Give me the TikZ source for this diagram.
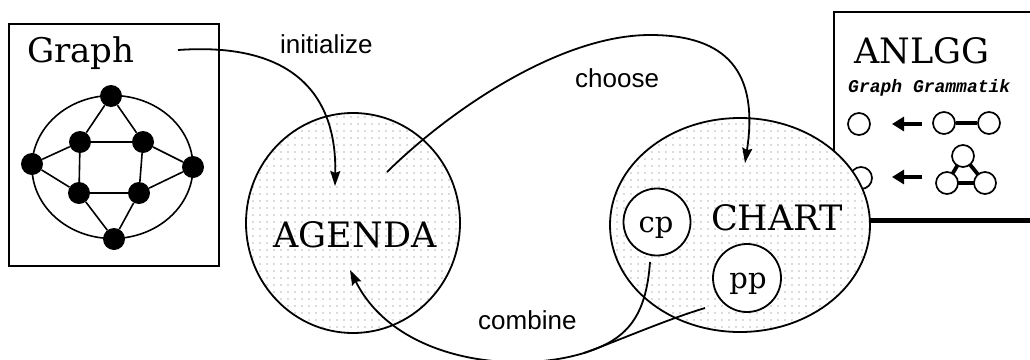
\documentclass[tikz,border=0pt]{standalone}
\usepackage{fontspec}
\setmainfont{DejaVu Serif}
\newfontfamily\sansf{Liberation Sans}
\newfontfamily\monof{Liberation Mono}
\usetikzlibrary{patterns.meta,arrows.meta,shapes.geometric}
\tikzset{
  bigtext/.style={font=\fontsize{35}{40}\selectfont, inner sep=0, anchor=base},
  smalltext/.style={font=\fontsize{29}{32}\selectfont, inner sep=0},
  sanslabel/.style={font=\sansf\fontsize{26}{30}\selectfont, inner sep=0, anchor=base west},
  blob/.style={ellipse, draw, line width=1.8pt, inner sep=0,
    preaction={fill=white}, pattern={Dots[radius=0.7pt,distance=6.5pt]}, pattern color=black!60},
  subcirc/.style={circle, draw, line width=1.8pt, fill=white, inner sep=0},
  gdot/.style={circle, fill=black, inner sep=0, minimum size=22pt},
  gedge/.style={line width=1.6pt},
  rcirc/.style={circle, draw, line width=1.7pt, fill=white, inner sep=0, minimum size=22pt},
  rbar/.style={line width=3.8pt},
  rarrow/.style={line width=4.5pt, -{Triangle[length=12pt,width=14pt]}},
  conn/.style={line width=1.8pt, -{Stealth[length=15pt,width=10pt,inset=2pt]}},
  connplain/.style={line width=1.8pt},
}
\begin{document}
\begin{tikzpicture}[x=1pt,y=-1pt]
\useasboundingbox (0,0) rectangle (1030,359);

% ANLGG box (partly behind the CHART ellipse)
\node[anchor=north west, minimum width=215pt, minimum height=208pt, inner sep=0] (anlgg) at (834,12) {};
\draw[line width=1.8pt] (anlgg.north east) -- (anlgg.north west) -- (anlgg.south west);
\draw[line width=5.5pt] (anlgg.south west) -- (anlgg.south east);
\node[bigtext, anchor=base west] (anlggtitle) at (854,63) {ANLGG};
\node[font=\monof\bfseries\itshape\fontsize{18}{20}\selectfont, inner sep=0, anchor=base west] (gg) at (848,92) {Graph Grammatik};
% rule 1
\node[rcirc] (r1l) at (859,124) {};
\coordinate (r1as) at (922,124);
\coordinate (r1ae) at (892,124);
\draw[rarrow] (r1as) -- (r1ae);
\node[rcirc] (r1a) at (944,123) {};
\node[rcirc] (r1b) at (989,123) {};
\draw[rbar] (r1a) -- (r1b);
% rule 2
\node[rcirc] (r2l) at (861,178) {};
\coordinate (r2as) at (922,177);
\coordinate (r2ae) at (892,177);
\draw[rarrow] (r2as) -- (r2ae);
\coordinate (t1) at (963,156);
\coordinate (t2) at (947,183);
\coordinate (t3) at (985,183);
\draw[rbar, line join=round] (t1) -- (t2) -- (t3) -- cycle;
\node[rcirc] (r2t) at (t1) {};
\node[rcirc] (r2bl) at (t2) {};
\node[rcirc] (r2br) at (t3) {};

% Graph box
\node[draw, line width=1.6pt, anchor=north west, minimum width=210pt, minimum height=242pt, inner sep=0] (graphbox) at (8,23) {};
\node[font=\fontsize{34}{38}\selectfont, inner sep=0, anchor=base west] (graphtitle) at (27,62) {Graph};
\draw[gedge] (112.5,167) ellipse [x radius=80.5, y radius=71.5];
\node[gdot] (gt) at (111,96) {};
\node[gdot] (gul) at (80,142) {};
\node[gdot] (gur) at (143,142) {};
\node[gdot] (gl) at (32,164) {};
\node[gdot] (gr) at (193,167) {};
\node[gdot] (gll) at (79,193) {};
\node[gdot] (glr) at (139,193) {};
\node[gdot] (gb) at (114,239) {};
\draw[gedge] (gt) -- (gul) (gt) -- (gur) (gul) -- (gur) (gul) -- (gll) (gur) -- (glr)
  (gll) -- (glr) (gl) -- (gul) (gl) -- (gll) (gr) -- (gur) (gr) -- (glr) (gb) -- (gll) (gb) -- (glr);

% AGENDA
\node[blob, minimum width=214pt, minimum height=220pt] (agenda) at (353,223) {};
\node[bigtext] (agendatext) at (355,247) {AGENDA};

% CHART
\node[blob, minimum width=260pt, minimum height=214pt] (chart) at (740,225) {};
\node[bigtext] (charttext) at (777,230) {CHART};
\node[subcirc, minimum width=67pt, minimum height=62pt] (cp) at (657,222) {};
\node[smalltext, anchor=base] (cptext) at (656,232) {cp};
\node[subcirc, minimum width=68pt, minimum height=65pt] (pp) at (747,278) {};
\node[smalltext, anchor=base] (pptext) at (748,288) {pp};

% labels
\node[sanslabel] (initlabel) at (280,53) {initialize};
\node[sanslabel] (chooselabel) at (575,87) {choose};
\node[sanslabel] (combinelabel) at (478,329) {combine};

% connectors
\coordinate (initstart) at (178,50);
\coordinate (agendainit) at (335,186);
\draw[conn] (initstart) .. controls (290,42) and (337,92) .. (agendainit);

\coordinate (choosestart) at (387,172);
\coordinate (choosetop) at (650,35);
\coordinate (charttip) at (745,163);
\draw[conn] (choosestart) .. controls (450,110) and (560,35) .. (choosetop)
  .. controls (727,35) and (759,72) .. (charttip);

\coordinate (cpstart) at (650,262);
\coordinate (join) at (584,353);
\coordinate (agendacomb) at (350,270);
\coordinate (ppstart) at (705,308);
\draw[conn] (cpstart) .. controls (646,318) and (626,340) .. (join)
  .. controls (512,375) and (395,360) .. (agendacomb);
\draw[connplain] (ppstart) .. controls (665,320) and (615,342) .. (join);
\end{tikzpicture}
\end{document}
